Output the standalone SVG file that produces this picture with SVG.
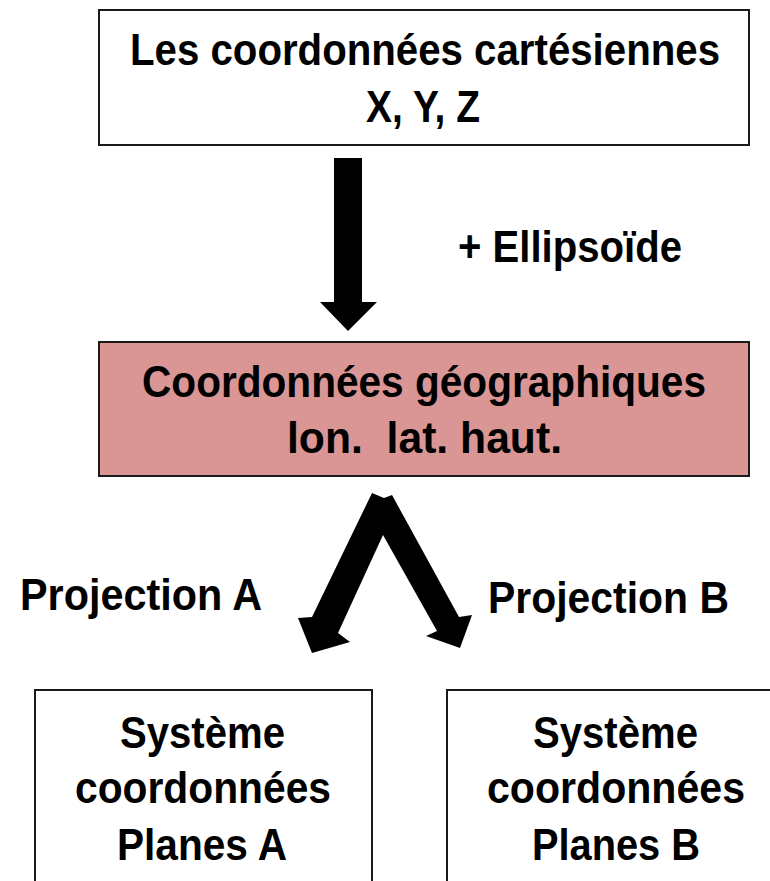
<svg xmlns="http://www.w3.org/2000/svg" width="770" height="881" viewBox="0 0 770 881">
<style>
.box{fill:#ffffff;stroke:#1a1a1a;stroke-width:2}
.pink{fill:#d99694;stroke:#1a1a1a;stroke-width:2}
.t{font-family:"Liberation Sans",Arial,sans-serif;font-weight:bold;font-size:44px;fill:#000}
.arrow{fill:#000}
</style>
<rect width="770" height="881" fill="#ffffff"/>
<g id="cartesiennes">
<rect class="box" x="99" y="10" width="650" height="135"/>
<text class="t" x="130" y="65" textLength="590" lengthAdjust="spacingAndGlyphs">Les coordonnées cartésiennes</text>
<text class="t" x="366" y="122" textLength="114" lengthAdjust="spacingAndGlyphs">X, Y, Z</text>
</g>
<g id="geographiques">
<rect class="pink" x="99" y="342" width="650" height="134"/>
<text class="t" x="142" y="397" textLength="564" lengthAdjust="spacingAndGlyphs">Coordonnées géographiques</text>
<text class="t" x="287" y="453" textLength="275" lengthAdjust="spacingAndGlyphs" xml:space="preserve">lon.  lat. haut.</text>
</g>
<g id="planesA">
<rect class="box" x="35" y="690" width="337" height="200"/>
<text class="t" x="120" y="748" textLength="165" lengthAdjust="spacingAndGlyphs">Système</text>
<text class="t" x="75" y="803" textLength="256" lengthAdjust="spacingAndGlyphs">coordonnées</text>
<text class="t" x="117" y="860" textLength="170" lengthAdjust="spacingAndGlyphs">Planes A</text>
</g>
<g id="planesB">
<rect class="box" x="447" y="690" width="340" height="200"/>
<text class="t" x="533" y="748" textLength="165" lengthAdjust="spacingAndGlyphs">Système</text>
<text class="t" x="487" y="803" textLength="258" lengthAdjust="spacingAndGlyphs">coordonnées</text>
<text class="t" x="532" y="860" textLength="168" lengthAdjust="spacingAndGlyphs">Planes B</text>
</g>
<g id="connectors">
<polygon class="arrow" points="334,158 362,158 362,302 377,302 348,331 320,302 334,302"/>
<text class="t" x="458" y="262" textLength="224" lengthAdjust="spacingAndGlyphs">+ Ellipsoïde</text>
<polygon class="arrow" points="372,493 384,498 392,495 459,617 472,615 460,648 426,636 437,631 383,535 338,633 350,642 312,653 298,618 312,617"/>
<text class="t" x="20" y="610" textLength="242" lengthAdjust="spacingAndGlyphs">Projection A</text>
<text class="t" x="488" y="613" textLength="241" lengthAdjust="spacingAndGlyphs">Projection B</text>
</g>
</svg>
